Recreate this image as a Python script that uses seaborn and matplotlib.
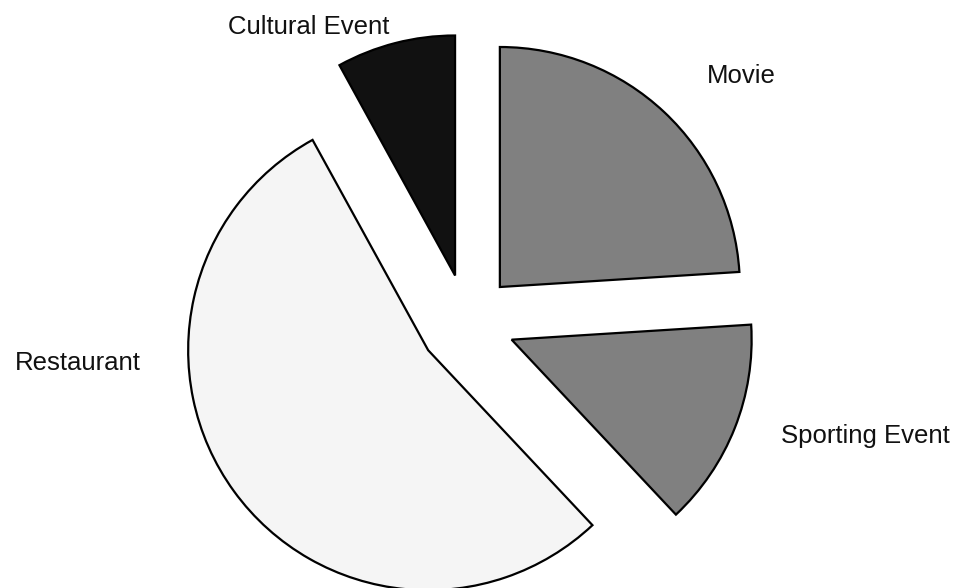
import matplotlib
matplotlib.use("Agg")
import matplotlib.pyplot as plt
import seaborn as sns
import numpy as np

# data (percent shares)
categories = ["Movie", "Sporting Event", "Restaurant", "Cultural Event"]
shares = [24, 14, 54, 8]
colors = ["#808080", "#808080", "#f5f5f5", "#111111"]

# label anchors (data units, radius = 1) and alignment, same order as categories
label_pos = [(1.0, 0.995), (1.31, -0.505), (-1.36, -0.2), (-0.995, 1.2)]
label_ha = ["left", "left", "right", "left"]

sns.set_theme(style="white")
plt.rcParams["font.family"] = ["Liberation Sans", "DejaVu Sans"]

fig = plt.figure(figsize=(9.58, 5.88), dpi=100)
ax = fig.add_axes([0, 0, 1, 1])

wedges, _ = ax.pie(
    shares,
    colors=colors,
    startangle=90,
    counterclock=False,
    explode=[0.2] * len(shares),
    wedgeprops=dict(edgecolor="black", linewidth=1.6),
)

for name, (x, y), ha in zip(categories, label_pos, label_ha):
    ax.text(x, y, name, ha=ha, va="baseline", fontsize=18.5, color="#111111")

# centre of the pie sits at (467, 322) px, radius ~240 px
cx, cy, r = 467, 322, 240
ax.set_aspect("auto")
ax.set_xlim(-cx / r, (958 - cx) / r)
ax.set_ylim(-(588 - cy) / r, cy / r)
ax.axis("off")

fig.savefig("out.png", dpi=100, facecolor="white")
